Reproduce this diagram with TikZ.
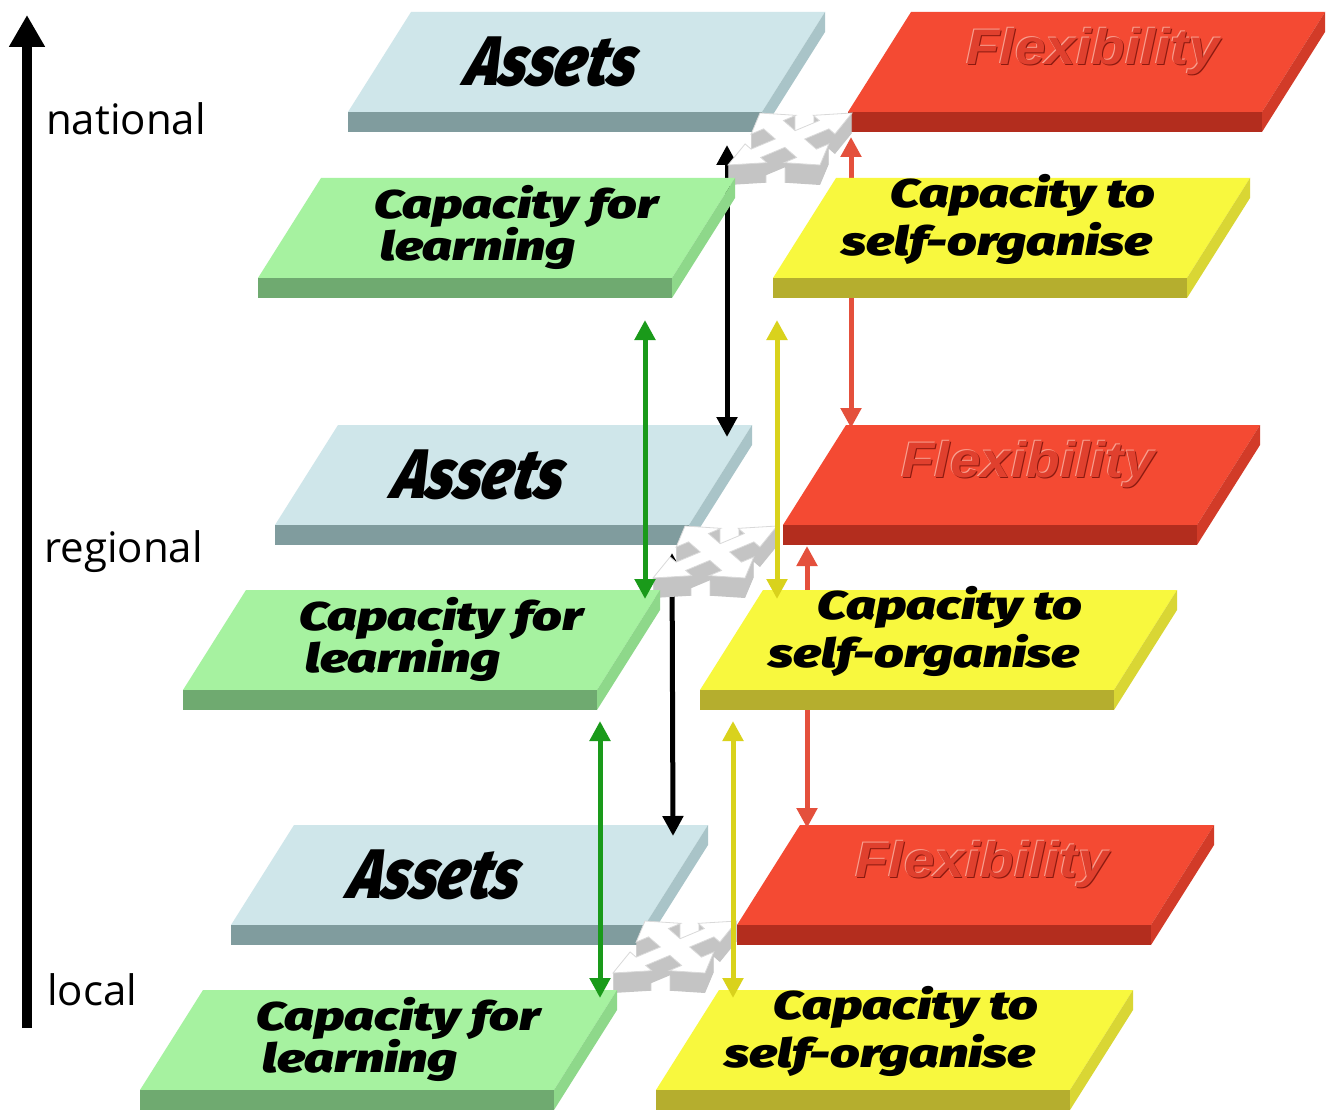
\documentclass[tikz,border=0pt]{standalone}
\usepackage{fontspec}
\setmainfont{Liberation Sans}
\newfontfamily\heavyfont{Fira Sans Black Italic}
\newfontfamily\assetfont{Fira Sans Black Italic}[FakeSlant=0.28]
\newfontfamily\flexfont{Liberation Sans}
\newfontfamily\axisfont{Open Sans}
\usetikzlibrary{arrows.meta,calc}
\definecolor{assetsTop}{HTML}{CFE6EA}
\definecolor{assetsFront}{HTML}{809C9E}
\definecolor{assetsSide}{HTML}{A9C4C8}
\definecolor{flexTop}{HTML}{F44A33}
\definecolor{flexFront}{HTML}{B32D1E}
\definecolor{flexSide}{HTML}{D23B28}
\definecolor{learnTop}{HTML}{A6F2A0}
\definecolor{learnFront}{HTML}{6FAA70}
\definecolor{learnSide}{HTML}{8ED88A}
\definecolor{selfTop}{HTML}{F8F83E}
\definecolor{selfFront}{HTML}{B5AE2E}
\definecolor{selfSide}{HTML}{D9D634}
\definecolor{arrGreen}{HTML}{1A9A1A}
\definecolor{arrYellow}{HTML}{D9D21C}
\definecolor{arrRed}{HTML}{E4503C}
\definecolor{iconside}{HTML}{C4C4C4}
\definecolor{flexShadow}{HTML}{8B1A10}
\definecolor{flexLight}{HTML}{F8A090}
\definecolor{flexText}{HTML}{E0402E}
% slab: #1 colour prefix, #2 x, #3 y (front-left corner of top face), #4 name
\newcommand\slab[4]{%
  \fill[fill=#1Top] (#2,#3) -- ++(414,0) -- ++(63,-100) -- ++(-414,0) -- cycle;
  \fill[fill=#1Front] (#2,#3) -- ++(414,0) -- ++(0,20) -- ++(-414,0) -- cycle;
  \fill[fill=#1Side] (#2,#3) ++(414,0) -- ++(63,-100) -- ++(0,20) -- ++(-63,100) -- cycle;
  \coordinate (#4) at (#2,#3);
}
\newcommand\xshape[1]{\fill[#1] (0,0.32) -- (0.39,0.71) -- (0.19,0.91) -- (1,1) -- (0.91,0.19) -- (0.71,0.39) -- (0.32,0) -- (0.71,-0.39) -- (0.91,-0.19) -- (1,-1) -- (0.19,-0.91) -- (0.39,-0.71) -- (0,-0.32) -- (-0.39,-0.71) -- (-0.19,-0.91) -- (-1,-1) -- (-0.91,-0.19) -- (-0.71,-0.39) -- (-0.32,0) -- (-0.71,0.39) -- (-0.91,0.19) -- (-1,1) -- (-0.19,0.91) -- (-0.39,0.71) -- cycle;}
\newcommand\xicon[1]{%
  \begin{scope}[shift={(#1)}, x={(46pt,0pt)}, y={(16pt,26pt)}]
    \foreach \d in {20,19,...,1} {\begin{scope}[yshift=-\d pt]\xshape{iconside}\end{scope}}
    \xshape{white,draw=gray!30,line width=0.8pt}
  \end{scope}}
\begin{document}
\begin{tikzpicture}[x=1pt,y=-1pt,
  lab/.style={font=\heavyfont\fontsize{40}{48}\selectfont, inner sep=0pt, text=black},
  asset/.style={font=\assetfont\fontsize{70}{70}\selectfont, inner sep=0pt, text=black},
  flex/.style={font=\flexfont\bfseries\itshape\fontsize{50}{50}\selectfont, inner sep=0pt},
  axislab/.style={font=\axisfont\fontsize{42}{42}\selectfont, inner sep=0pt, anchor=base west},
  dbl/.style={line width=5pt, arrows={Triangle[width=20pt,length=20pt]-Triangle[width=20pt,length=20pt]}},
]
\fill[white] (0,0) rectangle (1327,1110);
\useasboundingbox (0,0) rectangle (1327,1110);

% level axis
\coordinate (ax0) at (27,1028);
\coordinate (ax1) at (27,15);
\draw[line width=10pt, arrows={-Triangle[width=34pt,length=32pt]}] (ax0) -- (ax1);
\node[axislab] (nat) at (46,135) {national};
\node[axislab] (reg) at (44,562) {regional};
\node[axislab] (loc) at (47,1005) {local};

% back tiles: Assets and Flexibility
\newcommand\assets[3]{%
  \slab{assets}{#1}{#2}{#3}
  \node[asset] (#3t) at ($(#3)+(200,-50)$) {\scalebox{0.82}[1]{Assets}};}
\newcommand\flexi[3]{%
  \slab{flex}{#1}{#2}{#3}
  \node[flex,text=flexLight] (#3h) at ($(#3)+(244,-61)$) {\scalebox{1.1}[1]{Flexibility}};
  \node[flex,text=flexShadow] (#3s) at ($(#3)+(246,-59)$) {\scalebox{1.1}[1]{Flexibility}};
  \node[flex,text=flexText] (#3t) at ($(#3)+(245,-60)$) {\scalebox{1.1}[1]{Flexibility}};}
\assets{348}{112}{A1}
\flexi{848}{112}{F1}
\assets{275}{525}{A2}
\flexi{783}{525}{F2}
\assets{231}{925}{A3}
\flexi{737}{925}{F3}

% red arrows (behind front tiles)
\coordinate (r1a) at (851,137); \coordinate (r1b) at (851,428);
\coordinate (r2a) at (807,546); \coordinate (r2b) at (807,828);
\draw[dbl, draw=arrRed, fill=arrRed] (r1a) -- (r1b);
\draw[dbl, draw=arrRed, fill=arrRed] (r2a) -- (r2b);
% black arrows
\coordinate (k1a) at (727,145); \coordinate (k1b) at (727,437);
\coordinate (k2a) at (672,553); \coordinate (k2b) at (673,836);
\draw[dbl, draw=black] (k1a) -- (k1b);
\draw[dbl, draw=black] (k2a) -- (k2b);

% cross icons
\coordinate (ic1) at (790,139);
\coordinate (ic2) at (715,552);
\coordinate (ic3) at (675,947);
\xicon{ic1}
\xicon{ic2}
\xicon{ic3}

% front tiles
\newcommand\learn[3]{%
  \slab{learn}{#1}{#2}{#3}
  \node[lab] (#3a) at ($(#3)+(258,-72)$) {\scalebox{1.3}[1]{Capacity for}};
  \node[lab] (#3b) at ($(#3)+(220,-30)$) {\scalebox{1.3}[1]{learning}};}
\newcommand\selforg[3]{%
  \slab{self}{#1}{#2}{#3}
  \node[lab] (#3a) at ($(#3)+(250,-83)$) {\scalebox{1.3}[1]{Capacity to}};
  \node[lab] (#3b) at ($(#3)+(224,-35)$) {\scalebox{1.3}[1]{self-organise}};}
\learn{258}{278}{L1}
\selforg{773}{278}{S1}
\learn{183}{690}{L2}
\selforg{700}{690}{S2}
\learn{140}{1090}{L3}
\selforg{656}{1090}{S3}

% green and yellow arrows
\coordinate (g1a) at (645,320); \coordinate (g1b) at (645,599);
\coordinate (g2a) at (600,721); \coordinate (g2b) at (600,998);
\coordinate (y1a) at (777,320); \coordinate (y1b) at (777,599);
\coordinate (y2a) at (733,721); \coordinate (y2b) at (733,998);
\draw[dbl, draw=arrGreen] (g1a) -- (g1b);
\draw[dbl, draw=arrGreen] (g2a) -- (g2b);
\draw[dbl, draw=arrYellow] (y1a) -- (y1b);
\draw[dbl, draw=arrYellow] (y2a) -- (y2b);
\end{tikzpicture}
\end{document}
